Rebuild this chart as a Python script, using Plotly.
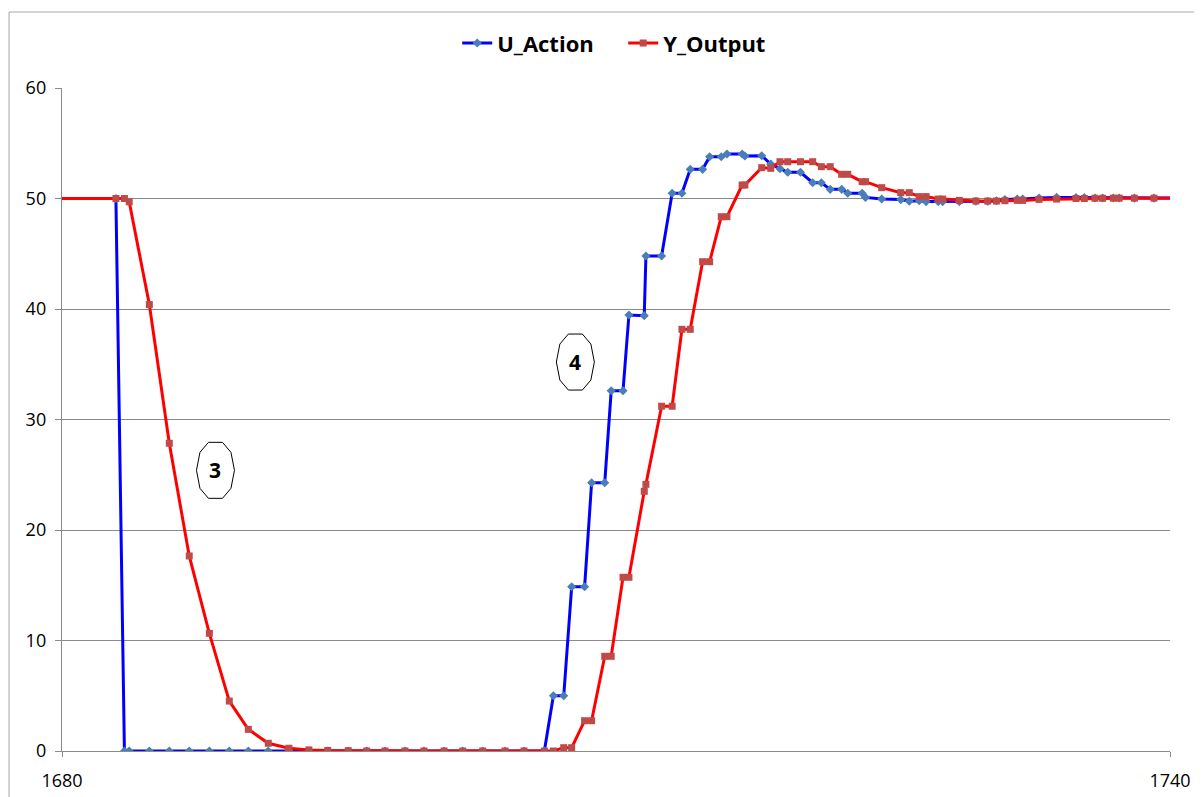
import plotly.graph_objects as go

# ---- data ----
time = [1679.00, 1682.92, 1683.38, 1683.64, 1684.73, 1685.81, 1686.89, 1687.98, 1689.06,
        1690.09, 1691.17, 1692.29, 1693.37, 1694.39, 1695.50, 1696.50, 1697.49, 1698.57,
        1699.60, 1700.69, 1701.70, 1702.78, 1703.99, 1705.02, 1706.12, 1706.61, 1707.17,
        1707.60, 1708.30, 1708.68, 1709.39, 1709.74, 1710.38, 1710.70, 1711.53, 1711.62,
        1712.47, 1713.04, 1713.57, 1714.02, 1714.69, 1715.07, 1715.70, 1716.01, 1716.83,
        1716.98, 1717.89, 1718.38, 1718.88, 1719.30, 1719.99, 1720.65, 1721.12, 1721.60,
        1722.22, 1722.55, 1723.33, 1723.51, 1724.39, 1725.42, 1725.88, 1726.42, 1726.79,
        1727.45, 1727.69, 1728.59, 1729.49, 1730.13, 1730.60, 1731.06, 1731.73, 1732.02,
        1732.91, 1733.86, 1734.91, 1735.36, 1735.94, 1736.35, 1736.93, 1737.25, 1738.07,
        1739.13, 1741.00]

u_action = [50.0, 50.0, 0.0, 0.0, 0.0, 0.0, 0.0, 0.0, 0.0,
            0.0, 0.0, 0.0, 0.0, 0.0, 0.0, 0.0, 0.0, 0.0,
            0.0, 0.0, 0.0, 0.0, 0.0, 0.0, 0.0, 5.0, 5.0,
            14.87, 14.87, 24.28, 24.28, 32.6, 32.6, 39.46, 39.4, 44.8,
            44.8, 50.47, 50.47, 52.64, 52.64, 53.78, 53.78, 54.03, 54.03,
            53.85, 53.87, 53.12, 52.7, 52.37, 52.37, 51.43, 51.43, 50.83,
            50.83, 50.47, 50.47, 50.1, 49.95, 49.9, 49.75, 49.8, 49.72,
            49.72, 49.72, 49.72, 49.75, 49.75, 49.8, 49.9, 49.95, 49.95,
            50.05, 50.1, 50.08, 50.08, 50.05, 50.05, 50.05, 50.05, 50.03,
            50.03, 50.03]

y_output = [50.0, 50.0, 50.0, 49.7, 40.4, 27.85, 17.65, 10.65, 4.52,
            1.96, 0.7, 0.25, 0.1, 0.05, 0.03, 0.0, 0.0, 0.0,
            0.0, 0.0, 0.0, 0.0, 0.0, 0.0, 0.0, 0.0, 0.3,
            0.3, 2.74, 2.74, 8.57, 8.57, 15.72, 15.72, 23.5, 24.13,
            31.2, 31.2, 38.16, 38.16, 44.28, 44.28, 48.35, 48.35, 51.22,
            51.22, 52.79, 52.73, 53.33, 53.33, 53.33, 53.33, 52.88, 52.88,
            52.19, 52.19, 51.52, 51.52, 50.98, 50.53, 50.53, 50.17, 50.17,
            49.95, 49.95, 49.83, 49.77, 49.77, 49.77, 49.8, 49.83, 49.83,
            49.92, 49.95, 50.0, 50.0, 50.02, 50.02, 50.03, 50.03, 50.03,
            50.03, 50.03]

series_names = ["U_Action", "Y_Output"]
x_ticks = [1680, 1740]

callout_labels = ["3", "4"]
callout_x = [1688.31, 1707.80]
callout_y = [25.4, 35.2]

# ---- figure ----
fig = go.Figure()
fig.add_trace(go.Scatter(
    x=time, y=u_action, name=series_names[0], mode="lines+markers",
    line=dict(color="#0000FF", width=3),
    marker=dict(symbol="diamond", size=7, color="#4A7EBB"),
))
fig.add_trace(go.Scatter(
    x=time, y=y_output, name=series_names[1], mode="lines+markers",
    line=dict(color="#FF0000", width=3),
    marker=dict(symbol="square", size=7, color="#BE4B48"),
))

octagon = ("M-7,-28 L7,-28 L15.5,-18 L19,0 L15.5,18 L7,28 "
           "L-7,28 L-15.5,18 L-19,0 L-15.5,-18 Z")
shapes = []
annotations = []
for lab, cx, cy in zip(callout_labels, callout_x, callout_y):
    shapes.append(dict(type="path", xref="x", yref="y", xsizemode="pixel",
                       ysizemode="pixel", xanchor=cx, yanchor=cy, path=octagon,
                       line=dict(color="black", width=1), fillcolor="white",
                       layer="above"))
    annotations.append(dict(x=cx, y=cy, xref="x", yref="y", text="<b>%s</b>" % lab,
                            showarrow=False,
                            font=dict(family="Open Sans", size=21, color="black")))

# chart-area border
shapes.append(dict(type="rect", xref="paper", yref="paper",
                   x0=-0.0478, y0=-0.12, x1=1.05, y1=1.1146,
                   line=dict(color="#a6a6a6", width=1), fillcolor="rgba(0,0,0,0)",
                   layer="below"))

fig.update_layout(
    width=1194, height=789,
    margin=dict(l=54, r=32, t=80, b=46, autoexpand=False),
    paper_bgcolor="white", plot_bgcolor="white",
    font=dict(family="Open Sans", color="black"),
    showlegend=True,
    legend=dict(orientation="h", x=0.5065, xanchor="center", y=1.0675, yanchor="middle",
                font=dict(family="Open Sans", size=22, color="black", weight="bold"),
                itemwidth=30, entrywidth=121, entrywidthmode="pixels",
                traceorder="normal", bgcolor="rgba(0,0,0,0)"),
    shapes=shapes,
    annotations=annotations,
)

fig.update_xaxes(
    range=[1680, 1740], tickmode="array", tickvals=x_ticks, automargin=False,
    showgrid=True, gridcolor="#c4c4c4", gridwidth=1, griddash="dash",
    showline=True, linecolor="#8a8a8a", linewidth=1.3,
    ticks="outside", ticklen=5, tickcolor="#8a8a8a",
    zeroline=False, ticklabelstandoff=8,
    tickfont=dict(family="Open Sans", size=18, color="black"),
)
fig.update_yaxes(
    range=[0, 60], dtick=10, tick0=0, automargin=False,
    showgrid=True, gridcolor="#8a8a8a", gridwidth=1.4,
    showline=True, linecolor="#8a8a8a", linewidth=1.4,
    ticks="outside", ticklen=6, tickcolor="#8a8a8a",
    zeroline=False, ticklabelstandoff=5,
    tickfont=dict(family="Open Sans", size=18, color="black"),
)

fig.write_html("out.html")
